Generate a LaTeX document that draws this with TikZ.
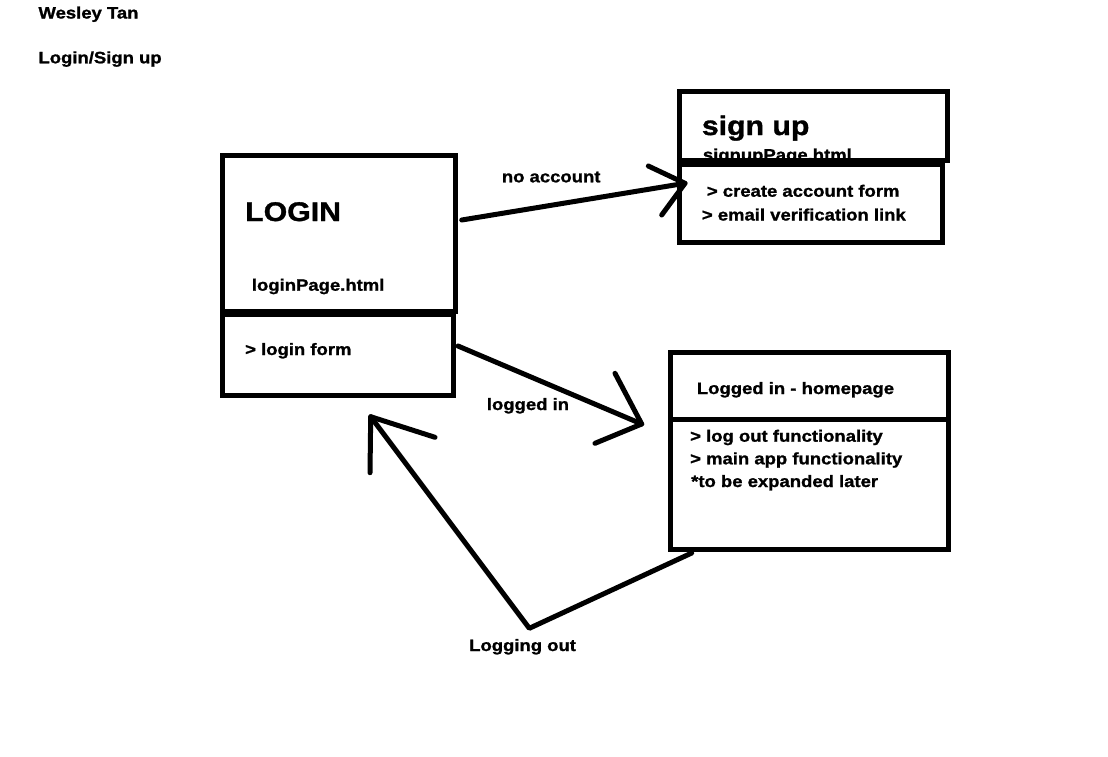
\documentclass[tikz,border=0pt]{standalone}
\usepackage{fontspec}
\newfontfamily\pfont[FakeStretch=1.12, BoldFeatures={FakeBold=1.2}]{Liberation Sans}
\begin{document}
\begin{tikzpicture}[x=1pt,y=-1pt,
  box/.style={draw, line width=5pt, inner sep=0pt, outer sep=0pt, anchor=north west},
  txt/.style={anchor=base west, inner sep=0pt, font=\pfont\bfseries\fontsize{16.5}{19}\selectfont},
  big/.style={anchor=base west, inner sep=0pt, font=\pfont\bfseries\fontsize{27}{30}\selectfont},
  conn/.style={line width=5pt, line cap=round, line join=round}]
\fill[white] (0,0) rectangle (1108,756);
\useasboundingbox (0,0) rectangle (1108,756);

% titles
\node[txt] (author) at (38.3,18.5) {Wesley Tan};
\node[txt] (title) at (38.3,63.3) {Login/Sign up};

% LOGIN box
\node[box, minimum width=233pt, minimum height=156pt] (loginTop) at (222.5,155) {};
\node[box, minimum width=230.5pt, minimum height=81.5pt] (loginBot) at (222.5,314) {};
\node[big] (loginT) at (245,221) {LOGIN};
\node[txt] (loginF) at (251.7,290.7) {loginPage.html};
\node[txt] (loginI) at (245,355) {> login form};

% sign up box
\node[txt] (signF) at (702.7,160.5) {signupPage.html};
\node[box, minimum width=268.5pt, minimum height=69pt] (signTop) at (679,91) {};
\node[box, fill=white, minimum width=263.5pt, minimum height=78.5pt] (signBot) at (679,164) {};
\node[big] (signT) at (701.7,135) {sign up};
\node[txt] (signI1) at (706.7,196.7) {> create account form};
\node[txt] (signI2) at (701.7,220.5) {> email verification link};

% homepage box
\node[box, minimum width=277.8pt, minimum height=66.5pt] (homeTop) at (670.5,352.5) {};
\node[box, minimum width=277.8pt, minimum height=130pt] (homeBot) at (670.5,419) {};
\node[txt] (homeT) at (696.7,394) {Logged in - homepage};
\node[txt] (homeI1) at (690,441.7) {> log out functionality};
\node[txt] (homeI2) at (690,464.3) {> main app functionality};
\node[txt] (homeI3) at (691,487) {*to be expanded later};

% no account
\coordinate (na0) at (461.7,220);
\coordinate (na1) at (685,183.3);
\coordinate (nab1) at (648.3,166);
\coordinate (nab2) at (661.7,215);
\draw[conn] (na0) -- (na1);
\draw[conn] (nab1) -- (na1) -- (nab2);
\node[txt] (noAcc) at (501.7,182.3) {no account};

% logged in
\coordinate (li0) at (458,346);
\coordinate (li1) at (641.7,424);
\coordinate (lib1) at (615,373.3);
\coordinate (lib2) at (595,443.3);
\draw[conn] (li0) -- (li1);
\draw[conn] (lib1) -- (li1) -- (lib2);
\node[txt] (logIn) at (486.7,410) {logged in};

% logging out
\coordinate (lo0) at (691.7,553);
\coordinate (lo1) at (529.3,628.3);
\coordinate (lo2) at (370.7,416.7);
\coordinate (lob1) at (435,437.3);
\coordinate (lob2) at (370,472.7);
\draw[conn] (lo0) -- (lo1) -- (lo2);
\draw[conn] (lob1) -- (lo2) -- (lob2);
\node[txt] (logOut) at (469,651) {Logging out};
\end{tikzpicture}
\end{document}
